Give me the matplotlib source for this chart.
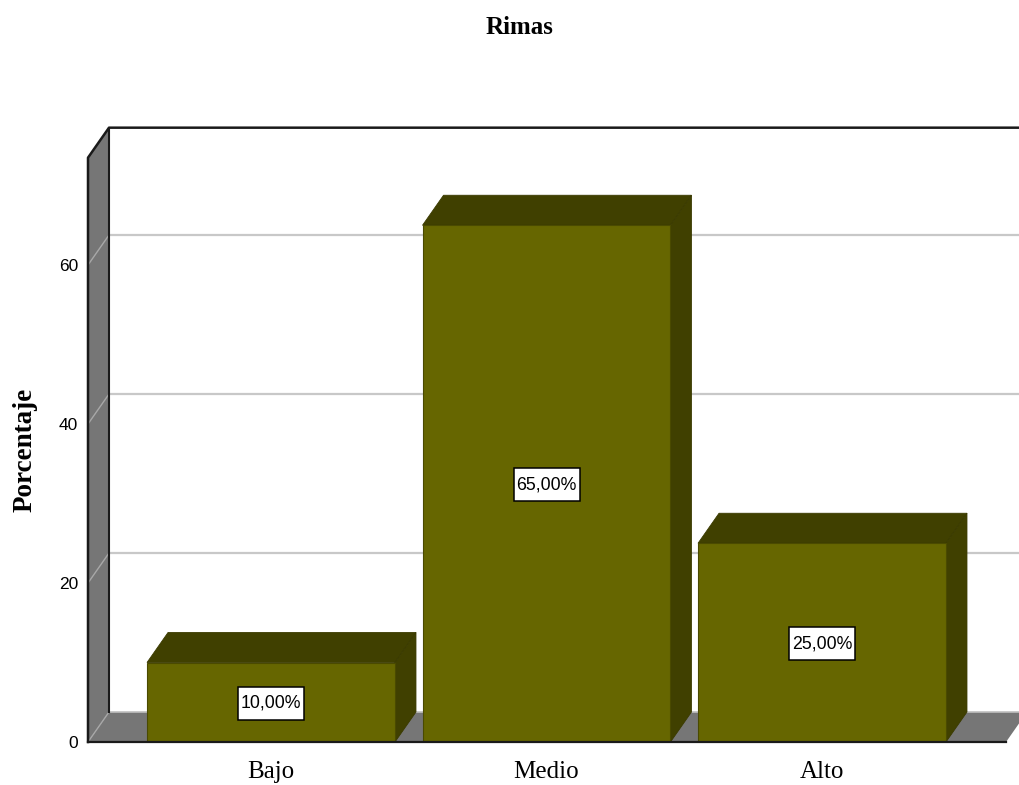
import matplotlib
matplotlib.use("Agg")
import matplotlib.pyplot as plt
from matplotlib.patches import Polygon, Rectangle

categories = ["Bajo", "Medio", "Alto"]
porcentajes = [10, 65, 25]
etiquetas = ["10,00%", "65,00%", "25,00%"]
yticks = [0, 20, 40, 60]

W, H = 1019, 785
BAR_W = 0.9
# fake 3d depth, in data units
DX = 21 / 275.5
DY = 30 / 7.95
YTOP = 73.5
FLOOR_END = 2.668
BOX_W = 66 / 275.5
BOX_H = 33 / 7.95
BOX_DROP = 1 / 7.95

OLIVE = "#666600"
DARK = "#404000"
GREY = "#767676"
LINE = "#1a1a1a"
GRID = "#c8c8c8"

fig = plt.figure(figsize=(W / 100, H / 100), dpi=100)
ax = fig.add_axes([88 / W, 1 - 742 / H, (W - 88) / W, (742 - 127) / H])
ax.set_xlim((88 - 271) / 275.5, (W - 271) / 275.5)
ax.set_ylim(0, (742 - 127) / 7.95)
for s in ax.spines.values():
    s.set_visible(False)
x0 = ax.get_xlim()[0]
x1 = ax.get_xlim()[1]


def poly(pts, fc, ec="none", lw=0.0, z=1):
    ax.add_patch(Polygon(pts, closed=True, fc=fc, ec=ec, lw=lw, zorder=z, clip_on=True))


# floor and left wall
poly([(x0, 0), (FLOOR_END, 0), (FLOOR_END + DX, DY), (x0 + DX, DY)], GREY, z=1)
poly([(x0, 0), (x0 + DX, DY), (x0 + DX, YTOP + DY), (x0, YTOP)], GREY, z=1)

# gridlines, back wall then across the side wall
for t in yticks[1:]:
    ax.plot([x0 + DX, x1], [t + DY, t + DY], color=GRID, lw=1.6, zorder=2, solid_capstyle="butt")
    ax.plot([x0, x0 + DX], [t, t + DY], color="#a8a8a8", lw=1.0, zorder=2)
ax.plot([x0, x0 + DX], [0, DY], color="#a8a8a8", lw=1.0, zorder=2)

# frame
ax.plot([x0, x0, x0 + DX, x1], [0, YTOP, YTOP + DY, YTOP + DY], color=LINE, lw=1.8, zorder=3, clip_on=False)
ax.plot([x0 + DX, x0 + DX], [DY, YTOP + DY], color=LINE, lw=1.5, zorder=3)
ax.plot([x0 + DX, x1], [DY, DY], color="#c0c0c0", lw=1.2, zorder=2)

# bars
for i, v in enumerate(porcentajes):
    l = i - BAR_W / 2
    r = i + BAR_W / 2
    poly([(l, v), (r, v), (r + DX, v + DY), (l + DX, v + DY)], DARK, ec="#3a3a00", lw=0.6, z=4)
    poly([(r, 0), (r + DX, DY), (r + DX, v + DY), (r, v)], DARK, ec="#3a3a00", lw=0.6, z=4)
    ax.bar(i, v, width=BAR_W, color=OLIVE, edgecolor="#4a4a00", linewidth=0.8, zorder=5)
    cy = v / 2 - BOX_DROP
    ax.add_patch(Rectangle((i - BOX_W / 2, cy - BOX_H / 2), BOX_W, BOX_H, fc="white",
                           ec="black", lw=1.1, zorder=6))
    ax.text(i, cy, etiquetas[i], ha="center", va="center", fontsize=12.8,
            family="Liberation Sans", color="black", zorder=7)

ax.plot([x0, FLOOR_END], [0, 0], color=LINE, lw=1.6, zorder=6, clip_on=False)

ax.set_xticks(range(len(categories)))
ax.set_xticklabels(categories, family="Liberation Serif", fontsize=18)
ax.set_yticks(yticks)
ax.set_yticklabels([str(t) for t in yticks], family="Liberation Sans", fontsize=12.5)
ax.tick_params(axis="x", length=0, pad=14)
ax.tick_params(axis="y", length=0, pad=7)

fig.text(520 / W, 1 - 27 / H, "Rimas", ha="center", va="center",
         family="Liberation Serif", fontweight="bold", fontsize=18)
fig.text(25 / W, 1 - 450 / H, "Porcentaje", ha="center", va="center", rotation=90,
         family="Liberation Serif", fontweight="bold", fontsize=19.5)

fig.savefig("out.png", dpi=100)
